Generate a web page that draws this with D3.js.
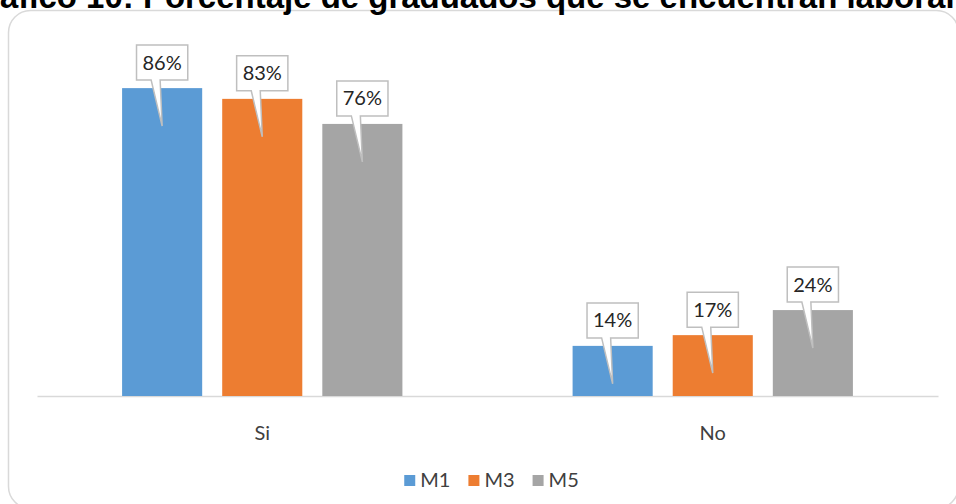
<!DOCTYPE html>
<html>
<head>
<meta charset="utf-8">
<script src="https://cdn.jsdelivr.net/npm/d3@7"></script>
<style>
  body { margin: 0; background: #ffffff; }
  svg { display: block; }
</style>
</head>
<body>
<div id="d3-container"></div>
<script>
// data
const categories = ["Si", "No"];
const seriesNames = ["M1", "M3", "M5"];
const M1 = [86, 14];
const M3 = [83, 17];
const M5 = [76, 24];
const seriesColors = ["#5b9bd5", "#ed7d31", "#a5a5a5"];
const titleText = "Gráfico 10: Porcentaje de graduados que se encuentran laborando";

function buildChart() {
    const width = 956;
    const height = 504;
    let dimensions = {
        width: width,
        height: height,
        margin: {top: 38, right: 18, bottom: 108, left: 37},
    };
    dimensions.boundedWidth = dimensions.width - dimensions.margin.left - dimensions.margin.right;
    dimensions.boundedHeight = 396 - dimensions.margin.top;

    const rows = categories.map(function(c, i) {
        return {category: c, values: [M1[i], M3[i], M5[i]]};
    });

    const root = d3.select("#d3-container")
        .append("svg")
        .attr("width", dimensions.width)
        .attr("height", dimensions.height);

    // outer rounded frame (partly cropped)
    root.append("rect")
        .attr("x", 8.5)
        .attr("y", 10.5)
        .attr("width", 950)
        .attr("height", 498)
        .attr("rx", 22)
        .attr("fill", "#ffffff")
        .attr("stroke", "#d9d9d9")
        .attr("stroke-width", 1.5);

    // title, cropped by the top edge of the picture
    const title = root.append("text")
        .attr("y", 8)
        .attr("font-family", "'Liberation Sans', Arial, sans-serif")
        .attr("font-weight", "bold")
        .attr("font-size", 32)
        .attr("fill", "#000000")
        .text(titleText);
    // fit the size so "encuentran" starts where it does in the picture
    const iA = titleText.indexOf("áfico");
    const iE = titleText.indexOf("encuentran");
    let span = title.node().getSubStringLength(iA, iE - iA);
    title.attr("font-size", 32 * 660 / span);
    title.attr("x", -title.node().getSubStringLength(0, iA));

    const svg = root.append("g")
        .attr("transform", "translate(" + dimensions.margin.left + "," + dimensions.margin.top + ")");

    // scales
    const x0 = d3.scaleBand()
        .domain(categories)
        .range([0, dimensions.boundedWidth])
        .padding(0);
    const x1 = d3.scaleBand()
        .domain(seriesNames)
        .range([0, x0.bandwidth()])
        .paddingInner(0.2)
        .paddingOuter(0.85);
    const y = d3.scaleLinear()
        .domain([0, 100])
        .range([dimensions.boundedHeight, 0]);
    const color = d3.scaleOrdinal().domain(seriesNames).range(seriesColors);

    // x axis
    const xAxis = svg.append("g")
        .attr("transform", "translate(0," + dimensions.boundedHeight + ")")
        .call(d3.axisBottom(x0).tickSize(0).tickPadding(30));
    xAxis.select(".domain")
        .attr("stroke", "#d9d9d9")
        .attr("stroke-width", 1.5);
    xAxis.selectAll("text")
        .attr("font-family", "Lato, sans-serif")
        .attr("font-size", 20)
        .attr("fill", "#404040");

    // bars
    const groups = svg.selectAll(".group")
        .data(rows)
        .enter()
        .append("g")
        .attr("class", "group")
        .attr("transform", function(d) { return "translate(" + x0(d.category) + ",0)"; });

    const items = groups.selectAll(".item")
        .data(function(d) {
            return d.values.map(function(v, i) { return {series: seriesNames[i], value: v}; });
        })
        .enter()
        .append("g")
        .attr("class", "item");

    items.append("rect")
        .attr("x", function(d) { return x1(d.series); })
        .attr("y", function(d) { return y(d.value); })
        .attr("width", x1.bandwidth())
        .attr("height", function(d) { return dimensions.boundedHeight - y(d.value); })
        .attr("fill", function(d) { return color(d.series); });

    // callout labels
    items.each(function(d) {
        const g = d3.select(this);
        const cx = x1(d.series) + x1.bandwidth() / 2;
        const top = y(d.value);
        const boxH = 35;
        const boxBottom = top - 8;
        const label = g.append("text")
            .attr("x", cx)
            .attr("y", boxBottom - boxH / 2 + 7)
            .attr("text-anchor", "middle")
            .attr("font-family", "Lato, sans-serif")
            .attr("font-size", 20)
            .attr("fill", "#262626")
            .text(d.value + "%");
        const tw = label.node().getComputedTextLength();
        const boxW = tw + 12;
        const bl = cx - boxW / 2, br = cx + boxW / 2, bt = boxBottom - boxH;
        const path = d3.path();
        path.moveTo(bl, bt);
        path.lineTo(br, bt);
        path.lineTo(br, boxBottom);
        path.lineTo(cx - 2, boxBottom);
        path.lineTo(cx, top + 38);
        path.lineTo(cx - 11, boxBottom);
        path.lineTo(bl, boxBottom);
        path.closePath();
        g.insert("path", "text")
            .attr("d", path.toString())
            .attr("fill", "#ffffff")
            .attr("stroke", "#bfbfbf")
            .attr("stroke-width", 1.5)
            .attr("stroke-linejoin", "miter");
    });

    // legend
    const legend = root.append("g");
    let lx = 0;
    seriesNames.forEach(function(s) {
        const item = legend.append("g").attr("transform", "translate(" + lx + ",0)");
        item.append("rect")
            .attr("x", 0)
            .attr("y", -12)
            .attr("width", 11)
            .attr("height", 11)
            .attr("fill", color(s));
        const t = item.append("text")
            .attr("x", 16)
            .attr("y", 0)
            .attr("font-family", "Lato, sans-serif")
            .attr("font-size", 20)
            .attr("fill", "#404040")
            .text(s);
        lx += 16 + t.node().getComputedTextLength() + 18;
    });
    const legendW = lx - 18;
    legend.attr("transform", "translate(" + (dimensions.margin.left + dimensions.boundedWidth / 2 - legendW / 2 + 4) + ",487)");
}

buildChart();
</script>
</body>
</html>
